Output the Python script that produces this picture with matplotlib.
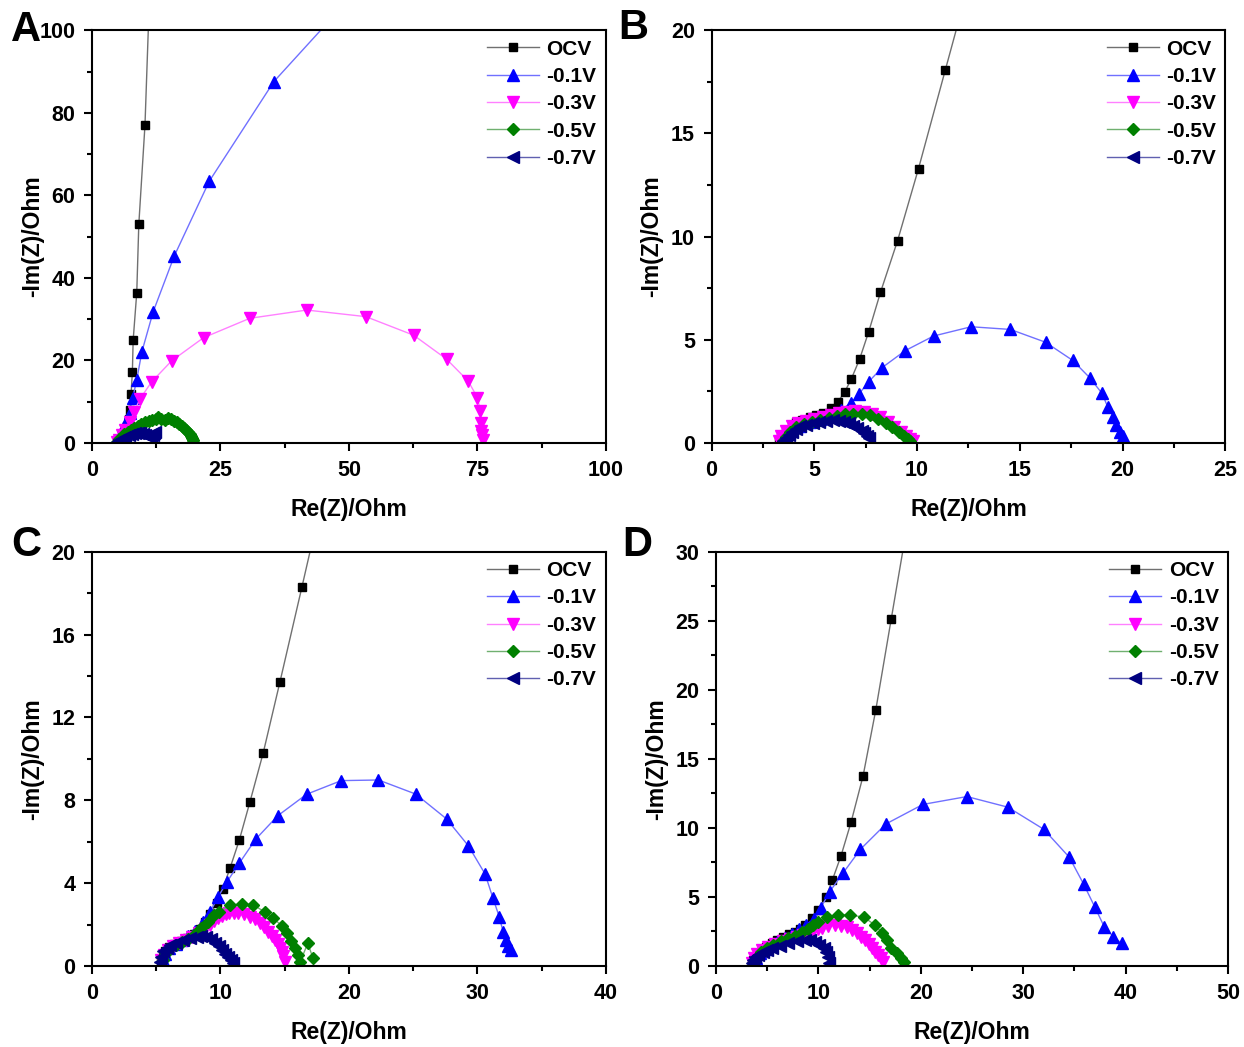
import matplotlib
matplotlib.use("Agg")
import matplotlib.pyplot as plt
from matplotlib.ticker import MultipleLocator

plt.rcParams["font.family"] = ["Liberation Sans", "DejaVu Sans"]
plt.rcParams["font.weight"] = "bold"

# ---- データ ----
labels = ["OCV", "-0.1V", "-0.3V", "-0.5V", "-0.7V"]

# パネル A
a_ocv_x = [4.8, 5.3, 5.9, 6.4, 6.8, 7.1, 7.4, 7.6, 7.85, 8.0, 8.7, 9.1, 10.3, 11.5]
a_ocv_y = [0.3, 1.0, 2.0, 3.0, 4.2, 5.8, 8.0, 11.9, 17.3, 24.9, 36.4, 53.0, 77.0, 120.0]
a_01_x = [4.8, 5.2, 5.8, 6.5, 7.3, 7.9, 8.7, 9.7, 11.9, 16.0, 22.8, 35.4, 51.8]
a_01_y = [0.3, 1.0, 2.5, 4.5, 7.2, 10.8, 15.3, 22.1, 31.8, 45.3, 63.4, 87.6, 110.0]
a_03_x = [4.8, 5.2, 5.8, 6.5, 7.3, 8.2, 9.3, 11.6, 15.5, 21.7, 30.7, 41.8, 53.3, 62.6,
          69.0, 73.2, 75.0, 75.6, 75.7, 75.8, 75.9, 76.0]
a_03_y = [0.2, 0.8, 1.8, 3.2, 5.0, 7.5, 10.6, 14.8, 19.9, 25.5, 30.2, 32.2, 30.6, 26.1,
          20.3, 15.0, 11.0, 7.7, 4.8, 3.0, 1.8, 0.8]
a_05_x = [4.9, 5.3, 5.8, 6.3, 6.9, 7.5, 8.2, 8.9, 9.6, 10.3, 11.0, 11.7, 12.4, 12.9, 13.5,
          14.2, 14.8, 15.3, 15.9, 16.5, 17.0, 17.5, 17.9, 18.3, 18.7, 19.0, 19.2, 19.4, 19.6, 19.7]
a_05_y = [0.3, 0.9, 1.5, 2.1, 2.7, 3.2, 3.7, 4.2, 4.6, 5.0, 5.3, 5.5, 5.9, 6.2, 5.7,
          5.6, 6.1, 5.8, 5.4, 5.0, 4.6, 4.1, 3.6, 3.1, 2.6, 2.1, 1.6, 1.1, 0.6, 0.2]
a_07_x = [4.8, 5.3, 5.9, 6.5, 7.1, 7.7, 8.3, 8.9, 9.4, 9.9, 10.4, 10.9, 11.4, 11.8, 12.1, 12.3]
a_07_y = [0.2, 0.6, 1.0, 1.4, 1.8, 2.1, 2.4, 2.5, 2.4, 2.2, 1.8, 1.6, 1.7, 2.0, 2.4, 2.7]

# パネル B
b_ocv_x = [3.3, 3.4, 3.6, 3.9, 4.1, 4.4, 4.77, 5.1, 5.4, 5.82, 6.14, 6.47, 6.8, 7.2,
           7.65, 8.22, 9.05, 10.07, 11.38, 12.5]
b_ocv_y = [0.1, 0.3, 0.55, 0.8, 1.03, 1.13, 1.24, 1.33, 1.45, 1.68, 1.99, 2.45, 3.1, 4.05,
           5.4, 7.3, 9.8, 13.3, 18.1, 22.2]
b_01_x = [3.4, 3.6, 3.9, 4.3, 4.8, 5.3, 5.8, 6.3, 6.8, 7.17, 7.65, 8.3, 9.42, 10.8, 12.63,
          14.54, 16.25, 17.57, 18.4, 19.0, 19.27, 19.55, 19.7, 19.85, 20.0, 20.05]
b_01_y = [0.1, 0.35, 0.6, 0.8, 1.0, 1.15, 1.35, 1.6, 1.95, 2.37, 2.97, 3.65, 4.47, 5.18, 5.63,
          5.5, 4.88, 4.0, 3.16, 2.4, 1.76, 1.27, 0.87, 0.55, 0.34, 0.15]
b_03_x = [3.3, 3.4, 3.6, 3.9, 4.2, 4.6, 5.0, 5.4, 5.8, 6.2, 6.6, 7.0, 7.4, 7.8, 8.2, 8.6,
          8.9, 9.2, 9.45, 9.65, 9.8]
b_03_y = [0.1, 0.35, 0.6, 0.8, 0.95, 1.05, 1.15, 1.25, 1.35, 1.45, 1.52, 1.55, 1.52, 1.42,
          1.25, 1.0, 0.78, 0.55, 0.35, 0.18, 0.08]
b_05_x = [3.5, 3.6, 3.8, 4.1, 4.5, 4.9, 5.3, 5.7, 6.1, 6.5, 6.9, 7.3, 7.7, 8.1, 8.5, 8.8,
          9.1, 9.35, 9.55, 9.65]
b_05_y = [0.1, 0.3, 0.55, 0.75, 0.9, 1.0, 1.1, 1.2, 1.3, 1.38, 1.42, 1.4, 1.33, 1.18, 0.98,
          0.78, 0.55, 0.35, 0.18, 0.08]
b_07_x = [3.5, 3.6, 3.75, 3.9, 4.1, 4.3, 4.6, 4.93, 5.25, 5.58, 5.9, 6.22, 6.45, 6.7, 6.9,
          7.1, 7.3, 7.44, 7.55, 7.65]
b_07_y = [0.1, 0.25, 0.4, 0.55, 0.68, 0.8, 0.88, 0.95, 1.02, 1.08, 1.1, 1.08, 1.03, 0.95,
          0.84, 0.71, 0.58, 0.47, 0.35, 0.24]

# パネル C
c_ocv_x = [5.4, 5.5, 5.7, 6.0, 6.4, 6.9, 7.4, 7.9, 8.4, 8.8, 9.2, 9.7, 10.17, 10.74, 11.46,
           12.3, 13.33, 14.63, 16.34, 17.3]
c_ocv_y = [0.2, 0.45, 0.7, 0.9, 1.05, 1.2, 1.35, 1.55, 1.8, 2.1, 2.5, 3.03, 3.72, 4.72, 6.07,
           7.94, 10.3, 13.72, 18.3, 20.9]
c_01_x = [5.5, 5.7, 6.0, 6.5, 7.0, 7.5, 8.0, 8.6, 9.18, 9.83, 10.48, 11.46, 12.74, 14.45,
          16.7, 19.4, 22.3, 25.2, 27.6, 29.3, 30.6, 31.2, 31.7, 32.0, 32.2, 32.4, 32.58]
c_01_y = [0.3, 0.6, 0.85, 1.05, 1.25, 1.45, 1.7, 2.1, 2.59, 3.35, 4.04, 4.96, 6.12, 7.25,
          8.29, 8.95, 8.98, 8.3, 7.1, 5.8, 4.44, 3.3, 2.38, 1.66, 1.26, 0.97, 0.77]
c_03_x = [5.4, 5.6, 5.9, 6.3, 6.8, 7.3, 7.8, 8.3, 8.8, 9.2, 9.5, 9.8, 10.1, 10.4, 10.7,
          11.05, 11.4, 11.85, 12.3, 12.7, 13.1, 13.4, 13.7, 14.0, 14.24, 14.45, 14.6, 14.75,
          14.9, 15.0]
c_03_y = [0.3, 0.55, 0.75, 0.95, 1.1, 1.25, 1.4, 1.6, 1.8, 2.0, 2.15, 2.3, 2.42, 2.5, 2.55,
          2.58, 2.58, 2.5, 2.38, 2.25, 2.06, 1.88, 1.66, 1.45, 1.26, 1.05, 0.85, 0.68, 0.5, 0.2]
c_05_x = [5.5, 5.7, 6.0, 6.5, 7.0, 7.5, 8.0, 8.5, 9.05, 9.5, 9.9, 10.74, 11.65, 12.56,
          13.46, 14.1, 14.76, 15.2, 15.5, 15.8, 16.05, 16.2, 16.8, 17.2]
c_05_y = [0.3, 0.6, 0.8, 1.0, 1.15, 1.3, 1.55, 1.85, 2.14, 2.45, 2.6, 2.93, 3.0, 2.95,
          2.6, 2.3, 1.95, 1.6, 1.2, 0.85, 0.53, 0.2, 1.1, 0.37]
c_07_x = [5.3, 5.35, 5.5, 5.8, 6.07, 6.5, 7.1, 7.6, 8.15, 8.5, 8.9, 9.25, 9.57, 9.85, 10.1,
          10.35, 10.6, 10.8, 11.0]
c_07_y = [0.2, 0.45, 0.7, 0.88, 1.0, 1.13, 1.26, 1.35, 1.42, 1.44, 1.42, 1.3, 1.13, 0.95,
          0.77, 0.6, 0.45, 0.3, 0.13]

# パネル D
d_ocv_x = [3.5, 3.6, 3.8, 4.1, 4.46, 4.9, 5.44, 6.0, 6.57, 7.1, 7.7, 8.2, 8.7, 9.35, 10.0,
           10.74, 11.36, 12.2, 13.18, 14.36, 15.6, 17.1, 18.5]
d_ocv_y = [0.2, 0.45, 0.67, 0.9, 1.16, 1.4, 1.64, 1.9, 2.12, 2.3, 2.49, 2.7, 2.97, 3.45, 4.06,
           4.98, 6.23, 7.97, 10.4, 13.77, 18.55, 25.1, 31.2]
d_01_x = [3.6, 3.9, 4.3, 4.8, 5.4, 6.0, 6.7, 7.4, 8.1, 8.8, 9.6, 10.24, 11.1, 12.37, 14.1,
          16.6, 20.2, 24.5, 28.5, 32.0, 34.5, 35.9, 37.0, 37.9, 38.8, 39.6]
d_01_y = [0.2, 0.6, 0.95, 1.25, 1.5, 1.75, 2.0, 2.3, 2.65, 3.0, 3.4, 4.23, 5.38, 6.7, 8.45,
          10.29, 11.7, 12.27, 11.5, 9.9, 7.87, 5.92, 4.25, 2.85, 2.12, 1.64]
d_03_x = [3.5, 3.7, 4.0, 4.5, 5.1, 5.8, 6.5, 7.2, 7.9, 8.5, 9.0, 9.5, 10.0, 10.3, 10.9,
          11.6, 12.2, 12.76, 13.3, 13.74, 14.15, 14.55, 14.9, 15.2, 15.55, 15.85, 16.1, 16.35]
d_03_y = [0.2, 0.55, 0.85, 1.15, 1.4, 1.6, 1.8, 1.95, 2.1, 2.25, 2.4, 2.55, 2.68, 2.73, 2.88,
          2.97, 2.93, 2.85, 2.62, 2.37, 2.12, 1.88, 1.58, 1.28, 1.02, 0.8, 0.55, 0.31]
d_05_x = [3.6, 3.9, 4.4, 5.0, 5.6, 6.3, 7.0, 7.7, 8.4, 9.0, 9.5, 10.0, 10.8, 11.95, 13.1,
          14.45, 15.5, 16.2, 16.7, 17.1, 17.65, 18.1, 18.4]
d_05_y = [0.2, 0.6, 1.0, 1.3, 1.55, 1.8, 2.0, 2.2, 2.45, 2.7, 2.95, 3.2, 3.57, 3.7, 3.7,
          3.53, 2.97, 2.42, 1.88, 1.28, 0.92, 0.56, 0.31]
d_07_x = [3.5, 3.6, 3.8, 4.1, 4.6, 5.0, 5.44, 6.2, 7.06, 7.9, 8.7, 9.2, 9.67, 10.1, 10.5,
          10.75, 10.9, 11.0]
d_07_y = [0.2, 0.45, 0.65, 0.8, 0.98, 1.13, 1.28, 1.48, 1.64, 1.78, 1.88, 1.86, 1.76, 1.55,
          1.28, 0.98, 0.67, 0.2]

# ---- 見た目の設定 ----
marker_colors = ["#000000", "#0000ff", "#ff00ff", "#008000", "#000080"]
line_colors = ["#707070", "#7070ff", "#ff80ff", "#70b070", "#6060b0"]
markers = ["s", "^", "v", "D", "<"]
msizes = [6, 8.5, 8.5, 6.5, 8.5]

panels = [
    # 文字, 位置[left,bottom,w,h], xlim, xstep, ylim, ystep, データ
    ("A", [0.074, 0.577, 0.413, 0.394], 100, 25, 100, 20,
     [(a_ocv_x, a_ocv_y), (a_01_x, a_01_y), (a_03_x, a_03_y), (a_05_x, a_05_y), (a_07_x, a_07_y)]),
    ("B", [0.572, 0.577, 0.413, 0.394], 25, 5, 20, 5,
     [(b_ocv_x, b_ocv_y), (b_01_x, b_01_y), (b_03_x, b_03_y), (b_05_x, b_05_y), (b_07_x, b_07_y)]),
    ("C", [0.074, 0.0774, 0.413, 0.3956], 40, 10, 20, 4,
     [(c_ocv_x, c_ocv_y), (c_01_x, c_01_y), (c_03_x, c_03_y), (c_05_x, c_05_y), (c_07_x, c_07_y)]),
    ("D", [0.5756, 0.0774, 0.4116, 0.3956], 50, 10, 30, 5,
     [(d_ocv_x, d_ocv_y), (d_01_x, d_01_y), (d_03_x, d_03_y), (d_05_x, d_05_y), (d_07_x, d_07_y)]),
]

letter_pos = {"A": (0.009, 0.971), "B": (0.497, 0.973), "C": (0.009, 0.479), "D": (0.500, 0.479)}

fig = plt.figure(figsize=(12.44, 10.47), dpi=100)

for letter, pos, xmax, xstep, ymax, ystep, series in panels:
    ax = fig.add_axes(pos)
    for i, (xs, ys) in enumerate(series):
        ax.plot(xs, ys, "-", color=line_colors[i], lw=1.0, marker=markers[i],
                ms=msizes[i], mfc=marker_colors[i], mec=marker_colors[i],
                label=labels[i])
    ax.set_xlim(0, xmax)
    ax.set_ylim(0, ymax)
    ax.xaxis.set_major_locator(MultipleLocator(xstep))
    ax.xaxis.set_minor_locator(MultipleLocator(xstep / 2))
    ax.yaxis.set_major_locator(MultipleLocator(ystep))
    ax.yaxis.set_minor_locator(MultipleLocator(ystep / 2))
    ax.tick_params(which="both", direction="out", width=1.5, labelsize=15.5,
                   top=False, right=False, pad=6)
    ax.tick_params(which="major", length=6)
    ax.tick_params(which="minor", length=3.5)
    for sp in ax.spines.values():
        sp.set_linewidth(1.5)
    # ラベル位置は軸からの距離で固定（Origin風）
    w_px = pos[2] * 1244
    h_px = pos[3] * 1047
    ax.set_xlabel("Re(Z)/Ohm", fontsize=16.5, fontweight="bold")
    ax.set_ylabel("-Im(Z)/Ohm", fontsize=16.5, fontweight="bold")
    ax.xaxis.set_label_coords(0.5, -55 / h_px)
    ax.yaxis.set_label_coords(-48 / w_px, 0.5)
    ax.legend(loc="upper right", frameon=False, fontsize=15, handlelength=2.5,
              handletextpad=0.35, labelspacing=0.4, borderaxespad=0.05)
    fx, fy = letter_pos[letter]
    fig.text(fx, fy, letter, fontsize=30, fontweight="bold", va="center", ha="left")

fig.savefig("out.png", dpi=100)
plt.close(fig)
